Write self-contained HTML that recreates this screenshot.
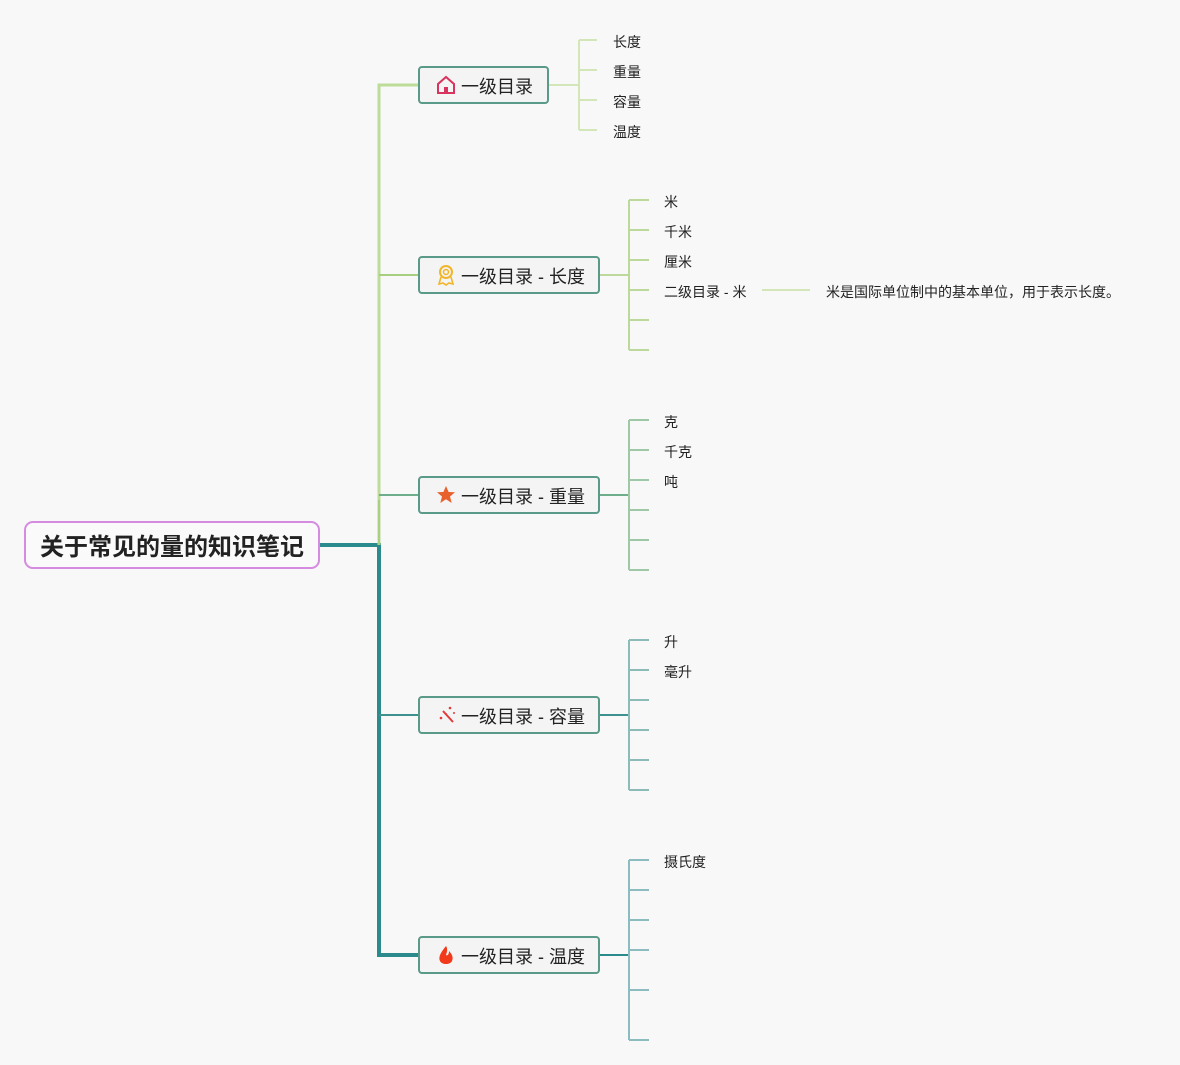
<!DOCTYPE html>
<html><head><meta charset="utf-8"><style>
html,body{margin:0;padding:0;background:#f8f8f8;}
svg{display:block;}
text{font-family:"Liberation Sans","Noto Sans CJK SC",sans-serif;fill:#222;}
</style></head><body>
<svg width="1180" height="1065" viewBox="0 0 1180 1065" xmlns="http://www.w3.org/2000/svg">
<rect width="1180" height="1065" fill="#f8f8f8"/>
<path d="M319 545 H379 V955 H419" fill="none" stroke="#2b8a8c" stroke-width="4"/>
<path d="M379 545 V85 H419" fill="none" stroke="#bcdc98" stroke-width="3"/>
<path d="M379 275 H419" stroke="#a8cf80" stroke-width="2"/>
<path d="M379 495 H419" stroke="#6fae8a" stroke-width="2"/>
<path d="M379 715 H419" stroke="#3d918f" stroke-width="2"/>
<path d="M379 545 V500" stroke="#a8d080" stroke-width="2"/>

<g stroke="#d3e6b8" stroke-width="2" fill="none">
<path d="M548 85 H579"/><path d="M579 40 V130"/>
<path d="M579 40 H597 M579 70 H597 M579 100 H597 M579 130 H597"/>
</g>
<g stroke="#bcd89a" stroke-width="2" fill="none">
<path d="M599 275 H629"/><path d="M629 200 V350"/>
<path d="M629 200 H649 M629 230 H649 M629 260 H649 M629 290 H649 M629 320 H649 M629 350 H649"/>
<path d="M762 290 H810" stroke="#d3e6b8"/>
</g>
<g stroke="#9ec8a6" stroke-width="2" fill="none">
<path d="M599 495 H629" stroke="#6fae8a"/><path d="M629 420 V570"/>
<path d="M629 420 H649 M629 450 H649 M629 480 H649 M629 510 H649 M629 540 H649 M629 570 H649"/>
</g>
<g stroke="#8bbcb8" stroke-width="2" fill="none">
<path d="M599 715 H629" stroke="#3d918f"/><path d="M629 640 V790"/>
<path d="M629 640 H649 M629 670 H649 M629 700 H649 M629 730 H649 M629 760 H649 M629 790 H649"/>
</g>
<g stroke="#8bbcc0" stroke-width="2" fill="none">
<path d="M599 955 H629" stroke="#2b8a8c"/><path d="M629 860 V1040"/>
<path d="M629 860 H649 M629 890 H649 M629 920 H649 M629 950 H649 M629 990 H649 M629 1040 H649"/>
</g>

<rect x="25" y="522" width="294" height="46" rx="8" fill="#fafafa" stroke="#d58be0" stroke-width="2"/>
<text x="172" y="555" font-size="24" font-weight="bold" text-anchor="middle" fill="#111">关于常见的量的知识笔记</text>

<g fill="#f4f4f4" stroke="#5a9a88" stroke-width="2">
<rect x="419" y="67" width="129" height="36" rx="3"/>
<rect x="419" y="257" width="180" height="36" rx="3"/>
<rect x="419" y="477" width="180" height="36" rx="3"/>
<rect x="419" y="697" width="180" height="36" rx="3"/>
<rect x="419" y="937" width="180" height="36" rx="3"/>
</g>
<g font-size="18">
<text x="461" y="93">一级目录</text>
<text x="461" y="283">一级目录 - 长度</text>
<text x="461" y="503">一级目录 - 重量</text>
<text x="461" y="723">一级目录 - 容量</text>
<text x="461" y="963">一级目录 - 温度</text>
</g>
<path d="M438 93 V84 L446 77 L454 84 V93 Z" fill="none" stroke="#d8345f" stroke-width="2"/>
<rect x="444" y="87" width="4" height="6" fill="#d8345f"/>
<circle cx="446" cy="272" r="6" fill="none" stroke="#f1b52a" stroke-width="2"/>
<circle cx="446" cy="272" r="2.5" fill="none" stroke="#f1b52a" stroke-width="1.5"/>
<path d="M441 277 L439 284 L443 283 L446 285 L449 283 L453 284 L451 277" fill="none" stroke="#f1b52a" stroke-width="1.6"/>
<polygon points="446,486 448.6,492 455,492.3 450,496.5 451.7,503 446,499.3 440.3,503 442,496.5 437,492.3 443.4,492" fill="#e8602c"/>
<path d="M443 711 L453 722" stroke="#e23a3a" stroke-width="2"/>
<circle cx="450" cy="708" r="1.3" fill="#e23a3a"/><circle cx="441" cy="718" r="1.3" fill="#e23a3a"/><circle cx="446" cy="714" r="1" fill="#e23a3a"/><circle cx="454" cy="713" r="1" fill="#e23a3a"/>
<path d="M446 946 C441 952 438 957 440 961 C442 965 450 965 452 961 C454 957 451 953 449 951 C449 955 447 956 446 955 C447 952 448 949 446 946 Z" fill="#f03a1a"/>

<g font-size="14">
<text x="613" y="47">长度</text><text x="613" y="77">重量</text><text x="613" y="107">容量</text><text x="613" y="137">温度</text>
<text x="664" y="207">米</text><text x="664" y="237">千米</text><text x="664" y="267">厘米</text><text x="664" y="297">二级目录 - 米</text>
<text x="826" y="297">米是国际单位制中的基本单位，用于表示长度。</text>
<text x="664" y="427">克</text><text x="664" y="457">千克</text><text x="664" y="487">吨</text>
<text x="664" y="647">升</text><text x="664" y="677">毫升</text>
<text x="664" y="867">摄氏度</text>
</g>
</svg>
</body></html>
